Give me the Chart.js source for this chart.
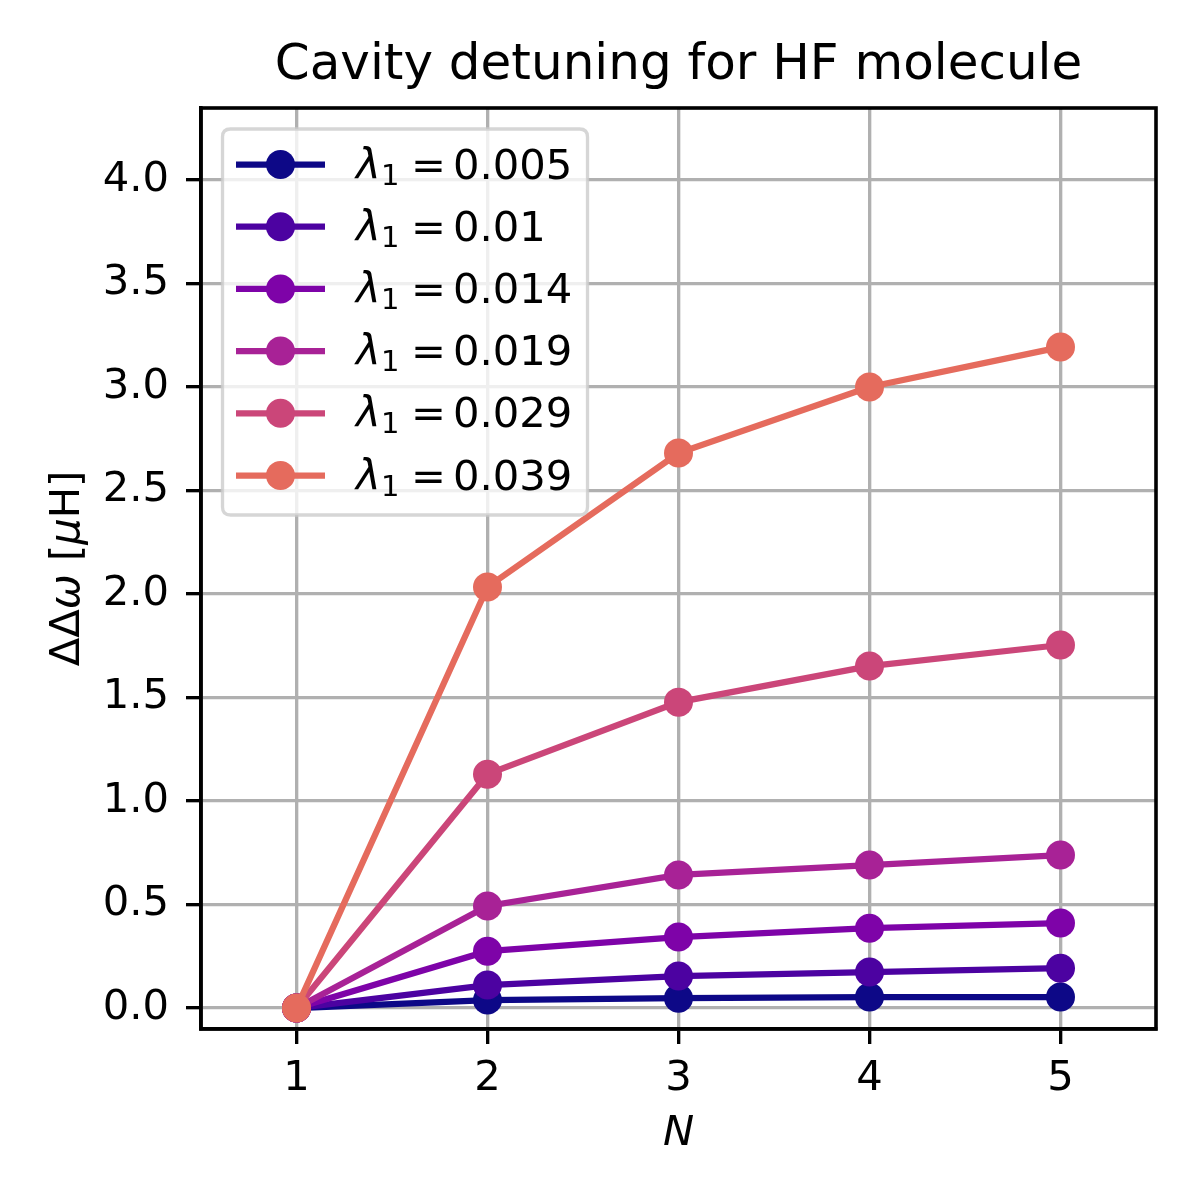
<!DOCTYPE html>
<html><head><meta charset="utf-8">
<script src="https://cdn.jsdelivr.net/npm/chart.js@4"></script>
<style>html,body{margin:0;padding:0;background:#fff;}</style>
</head><body>
<canvas id="c" width="1200" height="1200" style="width:1200px;height:1200px;display:block"></canvas>
<script>
// ---- data ----
const nValues = [1, 2, 3, 4, 5];
const lambdaLabels = ['0.005', '0.01', '0.014', '0.019', '0.029', '0.039'];
const lam005 = [0, 0.039, 0.048, 0.053, 0.053];
const lam010 = [0, 0.111, 0.155, 0.174, 0.193];
const lam014 = [0, 0.275, 0.343, 0.386, 0.411];
const lam019 = [0, 0.493, 0.643, 0.691, 0.739];
const lam029 = [0, 1.130, 1.478, 1.652, 1.754];
const lam039 = [0, 2.034, 2.681, 3.000, 3.193];
const seriesValues = [lam005, lam010, lam014, lam019, lam029, lam039];
const seriesColors = ['#0d0887', '#4c02a1', '#7e03a8', '#a82296', '#cb4679', '#e56b5d'];
const xTicks = [1, 2, 3, 4, 5];
const yTicks = [0.0, 0.5, 1.0, 1.5, 2.0, 2.5, 3.0, 3.5, 4.0];
const titleText = 'Cavity detuning for HF molecule';

const FONT = '"DejaVu Sans", "Liberation Sans", sans-serif';
const FS = 41.7;

const datasets = seriesValues.map((vals, i) => ({
  label: 'λ1 = ' + lambdaLabels[i],
  data: vals.map((v, j) => ({x: nValues[j], y: v})),
  borderColor: seriesColors[i],
  backgroundColor: seriesColors[i],
  pointBackgroundColor: seriesColors[i],
  pointBorderWidth: 0,
  pointRadius: 14.5,
  pointHoverRadius: 14.5,
  borderWidth: 6.25,
  tension: 0,
  fill: false,
  order: seriesValues.length - 1 - i
}));

const decor = {
  id: 'decor',
  afterDatasetsDraw(chart) {
    const ctx = chart.ctx;
    const a = chart.chartArea;
    ctx.save();
    // frame
    ctx.strokeStyle = '#000';
    ctx.lineWidth = 3.6;
    ctx.strokeRect(a.left, a.top, a.right - a.left, a.bottom - a.top);
    // legend
    const bx = 222.5, by = 129, bw = 365, bh = 386, r = 8;
    ctx.beginPath();
    ctx.moveTo(bx + r, by);
    ctx.lineTo(bx + bw - r, by);
    ctx.quadraticCurveTo(bx + bw, by, bx + bw, by + r);
    ctx.lineTo(bx + bw, by + bh - r);
    ctx.quadraticCurveTo(bx + bw, by + bh, bx + bw - r, by + bh);
    ctx.lineTo(bx + r, by + bh);
    ctx.quadraticCurveTo(bx, by + bh, bx, by + bh - r);
    ctx.lineTo(bx, by + r);
    ctx.quadraticCurveTo(bx, by, bx + r, by);
    ctx.closePath();
    ctx.fillStyle = 'rgba(255,255,255,0.8)';
    ctx.fill();
    ctx.strokeStyle = 'rgba(204,204,204,0.8)';
    ctx.lineWidth = 3.3;
    ctx.stroke();
    chart.data.datasets.forEach((ds, i) => {
      const cy = 164.5 + 62.2 * i;
      ctx.strokeStyle = ds.borderColor;
      ctx.lineWidth = 6.25;
      ctx.beginPath();
      ctx.moveTo(236, cy);
      ctx.lineTo(325, cy);
      ctx.stroke();
      ctx.fillStyle = ds.borderColor;
      ctx.beginPath();
      ctx.arc(280.5, cy, 14.5, 0, Math.PI * 2);
      ctx.fill();
      const base = cy + 14;
      const tx = 356;
      ctx.fillStyle = '#000';
      ctx.textAlign = 'left';
      ctx.textBaseline = 'alphabetic';
      ctx.font = 'italic ' + FS + 'px ' + FONT;
      ctx.fillText('λ', tx, base);
      ctx.font = '29px ' + FONT;
      ctx.fillText('1', tx + 25, base + 6);
      ctx.font = FS + 'px ' + FONT;
      ctx.fillText('=', tx + 55, base);
      ctx.fillText(lambdaLabels[i], tx + 97, base);
    });
    // x label
    ctx.fillStyle = '#000';
    ctx.font = 'italic ' + FS + 'px ' + FONT;
    ctx.textAlign = 'center';
    ctx.textBaseline = 'alphabetic';
    ctx.fillText('N', (a.left + a.right) / 2, 1145);
    // y label
    const pieces = [['ΔΔ', false], ['ω', true], [' [', false], ['μ', true], ['H]', false]];
    let total = 0;
    const widths = pieces.map(p => {
      ctx.font = (p[1] ? 'italic ' : '') + FS + 'px ' + FONT;
      const w = ctx.measureText(p[0]).width;
      total += w;
      return w;
    });
    ctx.translate(79, (a.top + a.bottom) / 2);
    ctx.rotate(-Math.PI / 2);
    ctx.textAlign = 'left';
    let x = -total / 2;
    pieces.forEach((p, i) => {
      ctx.font = (p[1] ? 'italic ' : '') + FS + 'px ' + FONT;
      ctx.fillText(p[0], x, 0);
      x += widths[i];
    });
    ctx.restore();
  }
};

new Chart(document.getElementById('c'), {
  type: 'line',
  data: {datasets},
  options: {
    responsive: false,
    devicePixelRatio: 1,
    animation: false,
    events: [],
    layout: {padding: {top: 0, right: 44, bottom: 0, left: 0}, autoPadding: false},
    plugins: {
      legend: {display: false},
      tooltip: {enabled: false},
      title: {
        display: true,
        text: titleText,
        fullSize: false,
        color: '#000',
        font: {family: FONT, size: 50, weight: 'normal', lineHeight: 1.2},
        padding: {top: 36, bottom: 12}
      }
    },
    scales: {
      x: {
        type: 'linear',
        min: 0.5,
        max: 5.5,
        afterFit(s) { s.height = 171; },
        afterBuildTicks(s) { s.ticks = xTicks.map(v => ({value: v})); },
        ticks: {
          color: '#000',
          font: {family: FONT, size: FS},
          padding: 10,
          maxRotation: 0,
          callback: v => String(v)
        },
        grid: {color: '#b0b0b0', lineWidth: 3.33, tickColor: '#000', tickLength: 15, tickWidth: 3.33},
        border: {display: true, color: '#000', width: 3.6}
      },
      y: {
        type: 'linear',
        min: -0.101,
        max: 4.348,
        afterFit(s) { s.width = 201; },
        afterBuildTicks(s) { s.ticks = yTicks.map(v => ({value: v})); },
        ticks: {
          color: '#000',
          font: {family: FONT, size: FS},
          padding: 17,
          callback: v => Number(v).toFixed(1)
        },
        grid: {color: '#b0b0b0', lineWidth: 3.33, tickColor: '#000', tickLength: 15, tickWidth: 3.33},
        border: {display: true, color: '#000', width: 3.6}
      }
    }
  },
  plugins: [decor]
});
</script>
</body></html>
